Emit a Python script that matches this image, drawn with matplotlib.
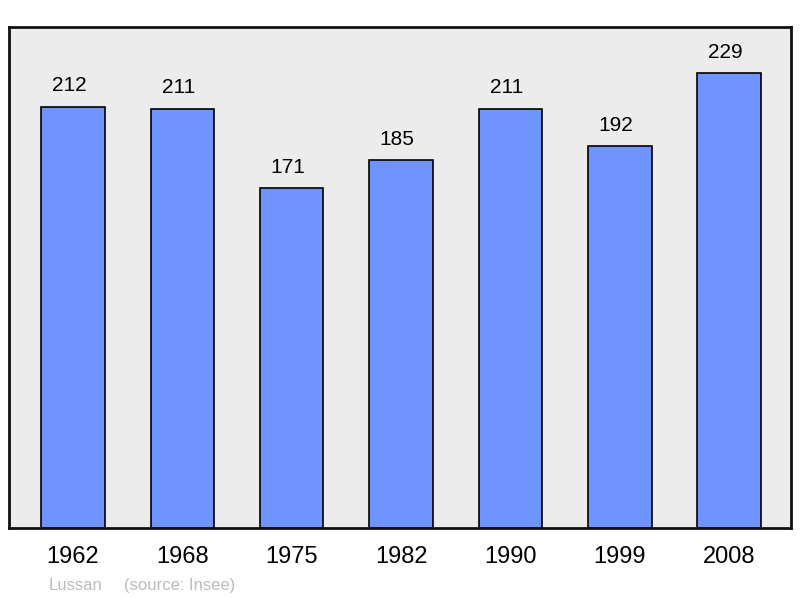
import matplotlib.pyplot as plt

years = ["1962", "1968", "1975", "1982", "1990", "1999", "2008"]
population = [212, 211, 171, 185, 211, 192, 229]

plt.rcParams['font.family'] = ['Liberation Sans', 'DejaVu Sans']

fig = plt.figure(figsize=(8, 5.98), dpi=100)
ax = fig.add_axes([9 / 800, 70 / 598, 782 / 800, 501 / 598])
ax.set_facecolor("#ececec")

x = list(range(len(years)))
bars = ax.bar(x, population, width=0.58, color="#7094ff", edgecolor="black", linewidth=1.2, zorder=2)

for xi, v in zip(x, population):
    ax.annotate(str(v), (xi, v), xytext=(-3, 8), textcoords="offset points",
                ha="center", va="bottom", fontsize=15)

ax.set_xlim(-0.585, 6.565)
ax.set_ylim(0, 252)
ax.set_yticks([])
ax.set_xticks(x)
ax.set_xticklabels(years, fontsize=17)
ax.tick_params(axis="x", length=0, pad=13)
for s in ax.spines.values():
    s.set_linewidth(2)
    s.set_color("#111111")

fig.text(49 / 800, 1 - 590 / 598, "Lussan", color="#bbbbbb", fontsize=12)
fig.text(124 / 800, 1 - 590 / 598, "(source: Insee)", color="#bbbbbb", fontsize=12)

fig.savefig("out.png", dpi=100)
